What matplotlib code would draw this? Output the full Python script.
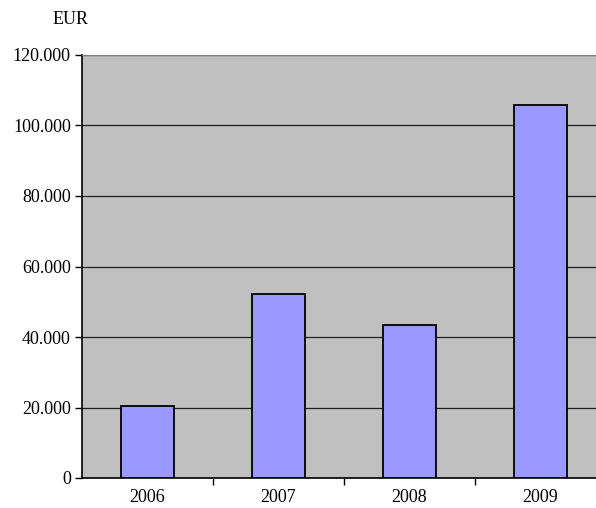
import numpy as np
import matplotlib
matplotlib.use('Agg')
import matplotlib.pyplot as plt
from matplotlib.ticker import FuncFormatter, FixedLocator

years = ['2006', '2007', '2008', '2009']
values = [20400, 52200, 43500, 105700]

plt.rcParams['font.family'] = ['Liberation Serif', 'DejaVu Serif']

fig = plt.figure(figsize=(5.96, 5.08), dpi=100)
W, H = 596.0, 508.0
# plot area runs past the right edge of the image, like the original
ax = fig.add_axes([82 / W, (H - 478) / H, 524 / W, (478 - 55) / H])
ax.set_facecolor('#C0C0C0')

x = np.arange(len(years))
ax.bar(x, values, width=0.41, color='#9999FF', edgecolor='black', linewidth=1.3, zorder=3)

ax.set_xlim(-0.5, len(years) - 0.5)
ax.set_ylim(0, 120000)
ax.set_yticks(np.arange(0, 120001, 20000))
ax.yaxis.set_major_formatter(FuncFormatter(lambda v, p: '{:,.0f}'.format(v).replace(',', '.')))
ax.grid(axis='y', color='#202020', linewidth=0.9, zorder=1)

ax.xaxis.set_major_locator(FixedLocator(x + 0.5))
ax.xaxis.set_minor_locator(FixedLocator(x))
ax.set_xticklabels([])
ax.set_xticks(x, years, minor=True)
ax.tick_params(axis='x', which='major', length=5, width=1, direction='out', color='black')
ax.tick_params(axis='x', which='minor', length=0, pad=8, labelsize=13)
ax.tick_params(axis='y', length=5, width=1, direction='out', pad=3, labelsize=13)

for s in ['left', 'bottom']:
    ax.spines[s].set_color('black')
    ax.spines[s].set_linewidth(1.2)
ax.spines['top'].set_color('#808080')
ax.spines['right'].set_visible(False)

fig.text(53 / W, 1 - 20 / H, 'EUR', fontsize=13, va='center', ha='left')

fig.savefig('out.png', dpi=100)
